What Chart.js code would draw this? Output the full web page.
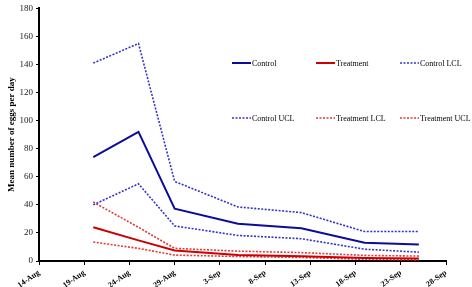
<!DOCTYPE html>
<html>
<head>
<meta charset="utf-8">
<script src="https://cdn.jsdelivr.net/npm/chart.js@4/dist/chart.umd.min.js"></script>
<style>
  html, body { margin: 0; padding: 0; background: #fff; }
  #wrap { width: 472px; height: 287px; position: relative; }
</style>
</head>
<body>
<div id="wrap"><canvas id="myChart"></canvas></div>
<script>
// Sampling dates
const dates = ['2015-08-20', '2015-08-25', '2015-08-29', '2015-09-05', '2015-09-12', '2015-09-19', '2015-09-25'];

// Series values (mean number of eggs per day)
const control      = [74, 92, 37.3, 26.5, 23.3, 13, 11.7];
const treatment    = [24, 14.7, 7.5, 4.2, 3.3, 2.2, 1.8];
const controlUCL   = [141, 155, 56.7, 38.5, 34.5, 21, 21];
const controlLCL   = [40, 55, 25, 18.2, 15.9, 8.4, 6.3];
const treatmentUCL = [42, 24, 9, 7, 6, 4, 3.5];
const treatmentLCL = [13.5, 9, 4.2, 3.2, 2.5, 1.2, 0.8];

// Axis ticks
const xStart = '2015-08-14';
const xTickStep = 5;
const xTickCount = 10;
const yMax = 180;
const yStep = 20;

const months = ['Jan', 'Feb', 'Mar', 'Apr', 'May', 'Jun', 'Jul', 'Aug', 'Sep', 'Oct', 'Nov', 'Dec'];
const DAY = 86400000;
const t0 = Date.parse(xStart);

function dayOffset(d) {
    return Math.round((Date.parse(d) - t0) / DAY);
}

function fmtDay(offset) {
    const d = new Date(t0 + offset * DAY);
    return d.getUTCDate() + '-' + months[d.getUTCMonth()];
}

function toPoints(values) {
    return values.map((v, i) => ({ x: dayOffset(dates[i]), y: v }));
}

const blue = '#0c0c9c';
const blueDot = '#3535c8';
const red = '#cc0000';
const redDot = '#e23a3a';

// Legend order as in the source figure
const seriesDefs = [
    { label: 'Control', data: control, color: blue, dotted: false },
    { label: 'Treatment', data: treatment, color: red, dotted: false },
    { label: 'Control LCL', data: controlLCL, color: blueDot, dotted: true },
    { label: 'Control UCL', data: controlUCL, color: blueDot, dotted: true },
    { label: 'Treatment LCL', data: treatmentLCL, color: redDot, dotted: true },
    { label: 'Treatment UCL', data: treatmentUCL, color: redDot, dotted: true }
];

// Legend drawn inside the plot, 3 columns x 2 rows
const legendPlugin = {
    id: 'gridLegend',
    afterDraw(chart) {
        const ctx = chart.ctx;
        const cols = [232, 316, 400];
        const rows = [63, 118];
        ctx.save();
        ctx.font = '8px "Liberation Serif", serif';
        ctx.textBaseline = 'middle';
        ctx.fillStyle = '#000';
        chart.data.datasets.forEach((ds, i) => {
            const x = cols[i % 3];
            const y = rows[Math.floor(i / 3)];
            ctx.beginPath();
            ctx.strokeStyle = ds.borderColor;
            ctx.lineWidth = ds.borderWidth;
            ctx.setLineDash(ds.borderDash || []);
            ctx.moveTo(x, y);
            ctx.lineTo(x + 19, y);
            ctx.stroke();
            ctx.setLineDash([]);
            ctx.fillText(ds.label, x + 20, y + 0.5);
        });
        ctx.restore();
    }
};

const ctx = document.getElementById('myChart').getContext('2d');

new Chart(ctx, {
    type: 'line',
    data: {
        datasets: seriesDefs.map(s => ({
            label: s.label,
            data: toPoints(s.data),
            borderColor: s.color,
            backgroundColor: s.color,
            borderWidth: s.dotted ? 1.6 : 2,
            borderDash: s.dotted ? [2, 1.5] : [],
            pointRadius: 0,
            tension: 0,
            fill: false
        }))
    },
    plugins: [legendPlugin],
    options: {
        responsive: true,
        maintainAspectRatio: false,
        animation: false,
        layout: { padding: { top: 4, right: 26, left: 0, bottom: 0 } },
        plugins: {
            legend: { display: false },
            tooltip: { enabled: false }
        },
        scales: {
            x: {
                type: 'linear',
                min: 0,
                max: xTickStep * (xTickCount - 1),
                afterBuildTicks: scale => {
                    scale.ticks = [];
                    for (let i = 0; i < xTickCount; i++) scale.ticks.push({ value: i * xTickStep });
                },
                afterFit: scale => { scale.height = 26; },
                grid: {
                    display: true,
                    drawOnChartArea: false,
                    drawTicks: true,
                    tickLength: 4,
                    color: '#000'
                },
                border: { color: '#000', width: 2 },
                ticks: {
                    color: '#000',
                    font: { family: '"Liberation Serif", serif', size: 8, weight: 'bold' },
                    minRotation: 35,
                    maxRotation: 35,
                    padding: 3,
                    autoSkip: false,
                    callback: value => fmtDay(value)
                }
            },
            y: {
                min: 0,
                max: yMax,
                afterFit: scale => { scale.width = 39; },
                grid: {
                    display: true,
                    drawOnChartArea: false,
                    drawTicks: true,
                    tickLength: 3,
                    color: '#000'
                },
                border: { color: '#000', width: 2 },
                ticks: {
                    stepSize: yStep,
                    color: '#222',
                    padding: 3,
                    font: { family: '"Liberation Serif", serif', size: 9 }
                },
                title: {
                    display: true,
                    text: 'Mean number of eggs per day',
                    color: '#000',
                    padding: { top: 6, bottom: 0 },
                    font: { family: '"Liberation Serif", serif', size: 9, weight: 'bold' }
                }
            }
        }
    }
});
</script>
</body>
</html>
